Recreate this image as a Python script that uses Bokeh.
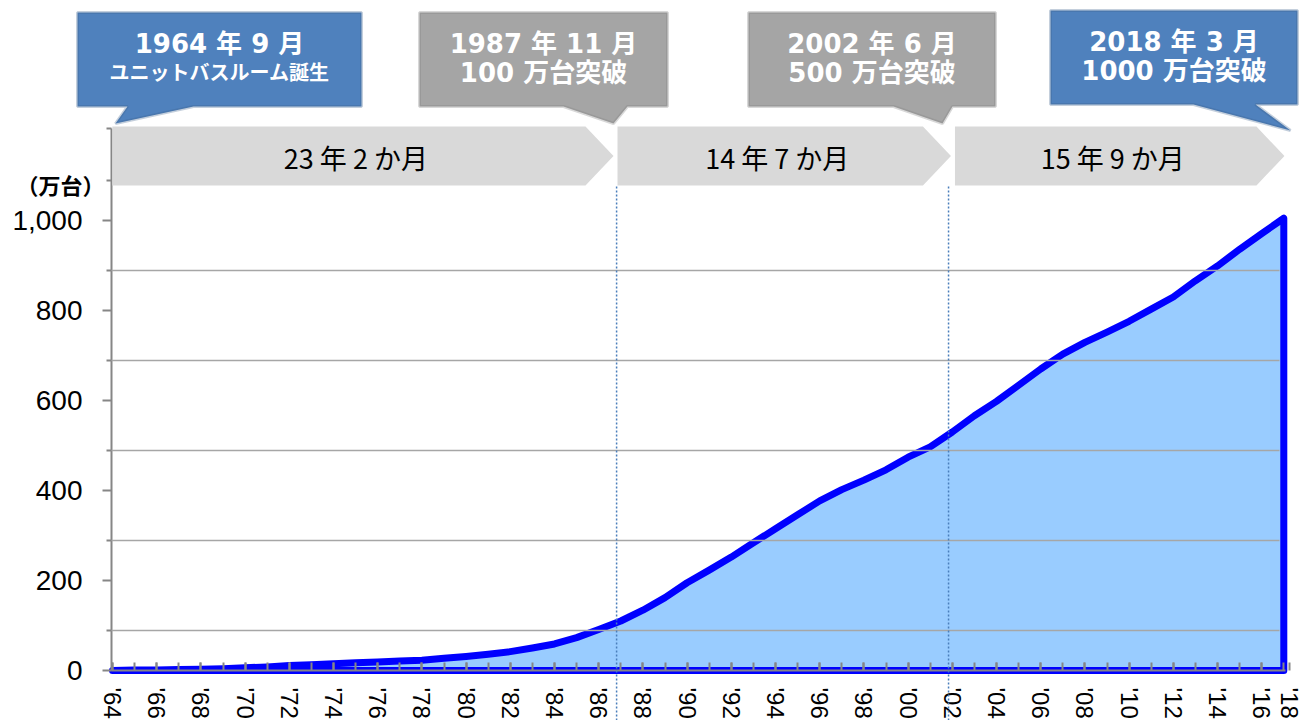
from bokeh.plotting import figure
from bokeh.models import (Range1d, FixedTicker, NumeralTickFormatter,
                          PolyAnnotation, Label, Arrow)
from bokeh.embed import file_html
from bokeh.resources import INLINE

# ---------------- data ----------------
years = list(range(1964, 2018))
units = [0, 1, 1, 2, 3, 4, 6, 8, 11, 13,
         15, 17, 19, 21, 23, 27, 31, 36, 42, 50,
         59, 73, 91, 110, 134, 162, 195, 223, 252, 284,
         315, 346, 377, 402, 423, 446, 474, 497, 530, 566,
         598, 634, 670, 703, 729, 752, 776, 803, 830, 866,
         899, 936, 971, 1005]

x_tick_years = [1964, 1966, 1968, 1970, 1972, 1974, 1976, 1978, 1980, 1982,
                1984, 1986, 1988, 1990, 1992, 1994, 1996, 1998, 2000, 2002,
                2004, 2006, 2008, 2010, 2012, 2014, 2016, 2017.25]
x_tick_labels = ["'64", "'66", "'68", "'70", "'72", "'74", "'76", "'78", "'80", "'82",
                 "'84", "'86", "'88", "'90", "'92", "'94", "'96", "'98", "'00", "'02",
                 "'04", "'06", "'08", "'10", "'12", "'14", "'16", "'18"]
y_ticks = [0, 200, 400, 600, 800, 1000]
grid_values = [88.5, 288.5, 488.5, 688.5, 888.5]
axis_top = 1204

milestone_x = [1986.81, 2001.83]
period_edges = [1963.9, 1986.76, 2002.03, 2017.12]
period_labels = ["23 年 2 か月", "14 年 7 か月", "15 年 9 か月"]

callout_line1 = ["1964 年 9 月", "1987 年 11 月", "2002 年 6 月", "2018 年 3 月"]
callout_line2 = ["ユニットバスルーム誕生", "100 万台突破", "500 万台突破", "1000 万台突破"]
callout_fill = ["#4f81bd", "#a5a5a5", "#a5a5a5", "#4f81bd"]
callout_border = ["#3a5f8b", "#7f7f7f", "#7f7f7f", "#3a5f8b"]
callout_line2_size = ["20px", "26px", "26px", "26px"]

# ---------------- layout constants (canvas pixels) ----------------
SX = 22.1     # px per year
SY = 0.45     # px per 万台
X0_PX, Y0_PX = 112, 670   # canvas position of (1964, 0)

def dx(px):
    return 1964 + (px - X0_PX) / SX

def dy(py):
    return (Y0_PX - py) / SY

# callout boxes: left, right, top, bottom ; tail: base-right, tip, base-left
callout_box_px = [(77, 361, 12, 106), (419, 667, 12, 106),
                  (748, 995, 12, 106), (1050, 1297, 10, 104)]
callout_tail_px = [((193, 106), (115, 123), (127, 106)),
                   ((627, 106), (613, 123), (563, 106)),
                   ((952, 106), (942, 123), (893, 106)),
                   ((1255, 104), (1290, 130), (1193, 104))]

W, H = 1303, 720
p = figure(width=W, height=H,
           x_range=Range1d(dx(0), dx(W)),
           y_range=Range1d(dy(H), dy(0)),
           output_backend="svg", toolbar_location=None,
           min_border_left=0, min_border_right=0,
           min_border_top=0, min_border_bottom=0)
p.outline_line_color = None
p.background_fill_color = "white"
p.border_fill_color = "white"
p.xgrid.visible = False

# area
xs = years + [years[-1], years[0]]
ys = units + [0, 0]
p.patch(xs, ys, fill_color="#99ccff", line_color="#0000ff",
        line_width=7, line_join="round")

# grid
p.ygrid.ticker = FixedTicker(ticks=grid_values)
p.ygrid.cross_bounds = (dx(111), dx(1279))
p.ygrid.grid_line_color = "#a6a6a6"
p.ygrid.grid_line_width = 1.5
p.ygrid.level = "guide"

AX = "#868686"
xa = p.xaxis[0]
xa.fixed_location = 0
xa.bounds = (dx(111), dx(1285))
xa.ticker = FixedTicker(ticks=x_tick_years, minor_ticks=years)
xa.major_label_overrides = {t: l for t, l in zip(x_tick_years, x_tick_labels)}
xa.major_label_orientation = "vertical"
xa.major_label_text_font = "Liberation Sans"
xa.major_label_text_font_size = "24px"
xa.major_label_text_color = "black"
xa.major_label_standoff = 17
xa.major_tick_in = 8
xa.major_tick_out = 0
xa.minor_tick_in = 8
xa.minor_tick_out = 0
xa.axis_line_color = AX
xa.axis_line_width = 2
xa.major_tick_line_color = AX
xa.minor_tick_line_color = AX
xa.major_tick_line_width = 2
xa.minor_tick_line_width = 2

ya = p.yaxis[0]
ya.fixed_location = dx(111)
ya.ticker = FixedTicker(ticks=y_ticks, minor_ticks=grid_values + [1088.5, axis_top])
ya.bounds = (0, axis_top)
ya.formatter = NumeralTickFormatter(format="0,0")
ya.major_label_text_font = "Liberation Sans"
ya.major_label_text_font_size = "28px"
ya.major_label_text_color = "black"
ya.major_label_standoff = 20
ya.major_tick_in = 0
ya.major_tick_out = 9
ya.minor_tick_in = 0
ya.minor_tick_out = 5
ya.axis_line_color = AX
ya.axis_line_width = 2
ya.major_tick_line_color = AX
ya.minor_tick_line_color = AX
ya.major_tick_line_width = 2
ya.minor_tick_line_width = 2

# milestone dotted lines
for mx in milestone_x:
    p.add_layout(Arrow(start=None, end=None, x_start=mx, x_end=mx,
                       y_start=dy(H), y_end=dy(185),
                       line_color="#4a7ebb", line_width=1.5, line_dash="2 2"))

# chevron bands
band_top, band_bot = dy(126), dy(185)
band_mid = (band_top + band_bot) / 2
depth = 28 / SX
gap = 2 / SX
for i, lab in enumerate(period_labels):
    s = period_edges[i] + gap
    t = period_edges[i + 1] - gap
    p.add_layout(PolyAnnotation(xs=[s, t - depth, t, t - depth, s],
                                ys=[band_top, band_top, band_mid, band_bot, band_bot],
                                fill_color="#d9d9d9", fill_alpha=1.0,
                                line_color=None))
    p.add_layout(Label(x=(s + t) / 2 - 7 / SX, y=dy(157), text=lab,
                       text_align="center", text_baseline="middle",
                       text_font="Noto Sans CJK JP", text_font_size="27px",
                       text_color="black"))

# callouts
for i in range(4):
    l, r, t, b = callout_box_px[i]
    (bx1, by1), (tx, ty), (bx2, by2) = callout_tail_px[i]
    pts = [(l, t), (r, t), (r, b), (bx1, by1), (tx, ty), (bx2, by2), (l, b)]
    p.add_layout(PolyAnnotation(xs=[dx(a) for a, _ in pts], ys=[dy(c) for _, c in pts],
                                fill_color=callout_fill[i], fill_alpha=1.0,
                                line_color=callout_border[i], line_width=3))
    cx = dx((l + r) / 2)
    p.add_layout(Label(x=cx, y=dy(t + 31), text=callout_line1[i],
                       text_align="center", text_baseline="middle",
                       text_font="DejaVu Sans, Noto Sans CJK JP", text_font_style="bold",
                       text_font_size="26px", text_color="white"))
    p.add_layout(Label(x=cx, y=dy(t + 60), text=callout_line2[i],
                       text_align="center", text_baseline="middle",
                       text_font="DejaVu Sans, Noto Sans CJK JP", text_font_style="bold",
                       text_font_size=callout_line2_size[i], text_color="white"))

# unit label
p.add_layout(Label(x=dx(60), y=dy(183), text="（万台）",
                   text_align="center", text_baseline="middle",
                   text_font="Noto Sans CJK JP", text_font_style="bold",
                   text_font_size="22px", text_color="black"))

open("out.html", "w").write(file_html(p, INLINE))
